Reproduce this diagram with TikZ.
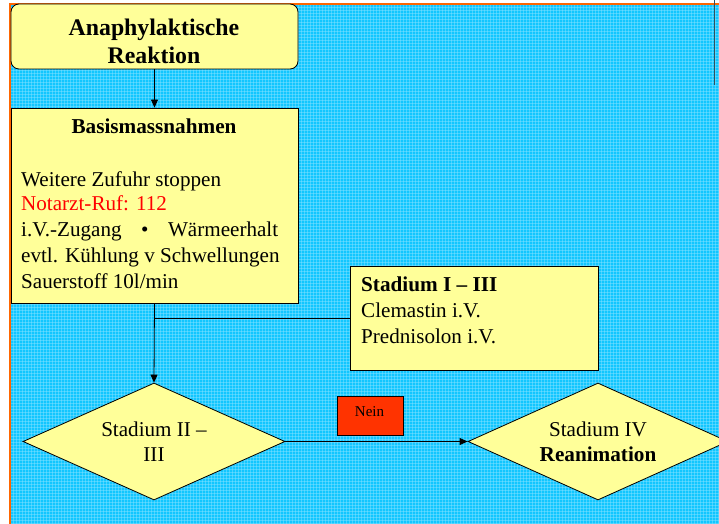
\documentclass[tikz,border=0pt]{standalone}
\usepackage{fontspec}
\setmainfont{Liberation Serif}
\usetikzlibrary{shapes.geometric,arrows.meta}
\definecolor{bgblue}{HTML}{12C6FF}
\definecolor{gridline}{HTML}{8BE3FF}
\definecolor{boxyellow}{HTML}{FFFF99}
\definecolor{borderorange}{HTML}{FF6600}
\definecolor{neinred}{HTML}{FF3300}
\definecolor{darkedge}{HTML}{2F4F5F}
\begin{document}
\begin{tikzpicture}[x=1bp,y=-1bp,
  box/.style={draw=black, line width=0.8bp, fill=boxyellow, inner sep=0pt},
  dia/.style={diamond, aspect=2.24, draw=black, line width=0.8bp, fill=boxyellow, inner sep=0pt, minimum width=262bp, minimum height=117bp},
  txt/.style={anchor=base, inner sep=0pt, font=\fontsize{21.1bp}{25bp}\selectfont},
  ltxt/.style={txt, anchor=base west},
  conn/.style={line width=0.8bp, draw=black},
  arr/.style={conn, -{Triangle[length=8bp,width=7bp]}}
]
\clip (0,0) rectangle (719,524);
\useasboundingbox (0,0) rectangle (719,524);
% background
\fill[white] (0,0) rectangle (719,524);
\fill[bgblue] (11,5) rectangle (719,524);
\begin{scope}[gridline, line width=0.7bp, opacity=0.45]
\foreach \i in {13,16,...,719} \draw (\i,5) -- (\i,524);
\foreach \j in {7,10,...,524} \draw (11,\j) -- (719,\j);
\end{scope}
\draw[borderorange, line width=2bp] (10,524) -- (10,4) -- (719,4);
\draw[darkedge, line width=1bp] (714,0) -- (714,85);

% boxes
\node[box, rounded corners=8bp, minimum width=287bp, minimum height=65bp] (b1) at (154.5,36.5) {};
\node[box, minimum width=287bp, minimum height=195bp] (b2) at (154.5,205.5) {};
\node[box, minimum width=248bp, minimum height=104bp] (b3) at (474,318) {};
\node[dia] (d1) at (154,441.5) {};
\node[dia, minimum width=260bp] (d2) at (598,441.5) {};
\node[box, fill=neinred, minimum width=66bp, minimum height=39bp] (nein) at (370,415.5) {};

% texts
\node[txt, font=\fontsize{23.8bp}{28bp}\selectfont\bfseries] (t1a) at (154,36) {Anaphylaktische};
\node[txt, font=\fontsize{23.8bp}{28bp}\selectfont\bfseries] (t1b) at (154,64) {Reaktion};
\node[txt, font=\fontsize{21.2bp}{25bp}\selectfont\bfseries] (t2a) at (154,134) {Basismassnahmen};
\node[ltxt] (t2b) at (21,186.5) {Weitere Zufuhr stoppen};
\node[ltxt, text=red] (t2c) at (21,211) {Notarzt-Ruf: 112};
\node[ltxt] (t2d) at (21,237) {\makebox[257bp][s]{i.V.-Zugang\hfill\textbullet\hfill Wärmeerhalt}};
\node[ltxt] (t2e) at (21,263) {evtl. Kühlung v Schwellungen};
\node[ltxt] (t2f) at (21,288) {Sauerstoff 10l/min};

\node[ltxt, font=\fontsize{21.2bp}{25bp}\selectfont\bfseries] (t3a) at (361,291) {Stadium I – III};
\node[ltxt] (t3b) at (361,317.5) {Clemastin i.V.};
\node[ltxt] (t3c) at (361,343) {Prednisolon i.V.};

\node[txt] (t4a) at (154,436) {Stadium II –};
\node[txt] (t4b) at (154,461) {III};

\node[txt] (t5a) at (598,436) {Stadium IV};
\node[txt, font=\fontsize{21.2bp}{25bp}\selectfont\bfseries] (t5b) at (598,461) {Reanimation};

\node[txt, font=\fontsize{15bp}{18bp}\selectfont] (t6) at (369.5,416.5) {Nein};

% connectors
\draw[arr] (b1.south) -- (b2.north);
\draw[arr] (b2.south) -- (d1.north);
\coordinate (j) at (154,318);
\draw[conn] (j) -- (b3.west);
\draw[arr] (d1.east) -- (d2.west);
\end{tikzpicture}
\end{document}
